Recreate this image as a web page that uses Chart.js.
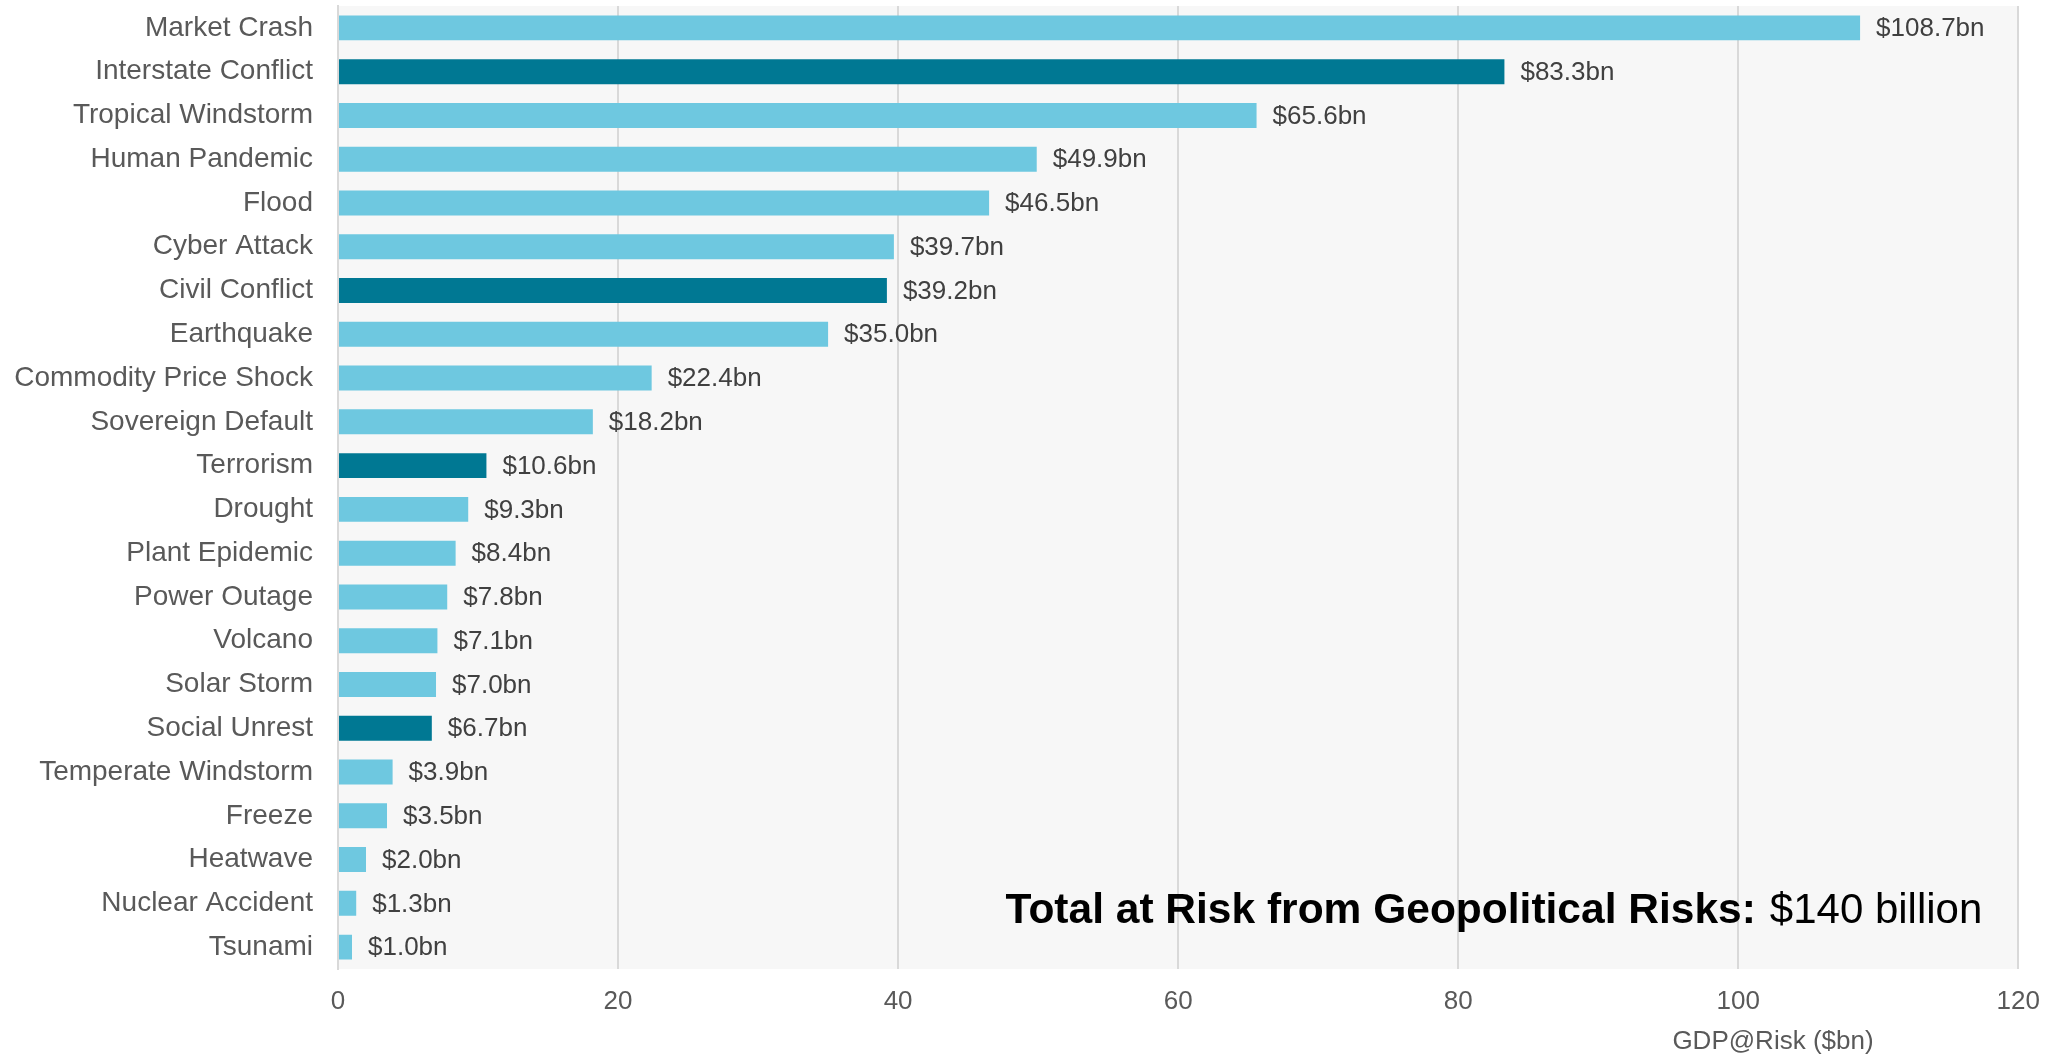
<!DOCTYPE html>
<html>
<head>
<meta charset="utf-8">
<script src="https://cdn.jsdelivr.net/npm/chart.js@4/dist/chart.umd.min.js"></script>
<style>
  html, body { margin: 0; padding: 0; background: #ffffff; }
  #wrap { width: 2057px; height: 1059px; position: relative; }
</style>
</head>
<body>
<div id="wrap"><canvas id="chart"></canvas></div>
<script>
// GDP@Risk by threat, $bn
const categories = [
  'Market Crash', 'Interstate Conflict', 'Tropical Windstorm', 'Human Pandemic',
  'Flood', 'Cyber Attack', 'Civil Conflict', 'Earthquake', 'Commodity Price Shock',
  'Sovereign Default', 'Terrorism', 'Drought', 'Plant Epidemic', 'Power Outage',
  'Volcano', 'Solar Storm', 'Social Unrest', 'Temperate Windstorm', 'Freeze',
  'Heatwave', 'Nuclear Accident', 'Tsunami'
];
const gdpAtRisk = [
  108.7, 83.3, 65.6, 49.9, 46.5, 39.7, 39.2, 35.0, 22.4, 18.2, 10.6,
  9.3, 8.4, 7.8, 7.1, 7.0, 6.7, 3.9, 3.5, 2.0, 1.3, 1.0
];
// geopolitical threats are highlighted in the darker shade
const geopolitical = ['Interstate Conflict', 'Civil Conflict', 'Terrorism', 'Social Unrest'];
const xTicks = [0, 20, 40, 60, 80, 100, 120];
const totalLabel = 'Total at Risk from Geopolitical Risks:';
const totalValue = '$140 billion';
const axisTitle = 'GDP@Risk ($bn)';

const FONT = "'Liberation Sans', Arial, Helvetica, sans-serif";
const LIGHT = '#6EC8E0';
const DARK = '#007893';

const barColors = categories.map(c => geopolitical.includes(c) ? DARK : LIGHT);

const plotBackground = {
  id: 'plotBackground',
  beforeDraw(chart) {
    const { ctx, chartArea: a } = chart;
    ctx.save();
    ctx.fillStyle = '#F7F7F7';
    ctx.fillRect(a.left, a.top, a.right - a.left, a.bottom - a.top);
    ctx.restore();
  }
};

const valueLabels = {
  id: 'valueLabels',
  afterDatasetsDraw(chart) {
    const { ctx } = chart;
    const meta = chart.getDatasetMeta(0);
    ctx.save();
    ctx.font = `26px ${FONT}`;
    ctx.fillStyle = '#404040';
    ctx.textAlign = 'left';
    ctx.textBaseline = 'middle';
    meta.data.forEach((bar, i) => {
      ctx.fillText('$' + gdpAtRisk[i].toFixed(1) + 'bn', bar.x + 16, bar.y + 1);
    });
    ctx.restore();
  }
};

const annotations = {
  id: 'annotations',
  afterDraw(chart) {
    const { ctx, chartArea: a } = chart;
    ctx.save();
    // total note, lower right of plot
    const right = a.right - 36;
    const base = a.bottom - 46;
    ctx.textBaseline = 'alphabetic';
    ctx.fillStyle = '#000000';
    ctx.font = `42px ${FONT}`;
    const wVal = ctx.measureText(totalValue).width;
    ctx.textAlign = 'right';
    ctx.fillText(totalValue, right, base);
    ctx.font = `bold 42.5px ${FONT}`;
    ctx.fillText(totalLabel, right - wVal - 14, base);
    // x axis title
    ctx.font = `26px ${FONT}`;
    ctx.fillStyle = '#595959';
    ctx.textAlign = 'center';
    ctx.textBaseline = 'middle';
    const cx = a.left + (a.right - a.left) * 0.854;
    ctx.fillText(axisTitle, cx, a.bottom + 73);
    ctx.restore();
  }
};

new Chart(document.getElementById('chart'), {
  type: 'bar',
  data: {
    labels: categories,
    datasets: [{
      data: gdpAtRisk,
      backgroundColor: barColors,
      borderWidth: 0,
      barPercentage: 0.57,
      categoryPercentage: 1.0
    }]
  },
  options: {
    indexAxis: 'y',
    responsive: true,
    maintainAspectRatio: false,
    animation: false,
    layout: { padding: { top: 6, right: 38, left: 0, bottom: 0 } },
    plugins: {
      legend: { display: false },
      tooltip: { enabled: false }
    },
    scales: {
      x: {
        min: 0,
        max: 120,
        afterBuildTicks(scale) { scale.ticks = xTicks.map(v => ({ value: v })); },
        afterFit(scale) { scale.height = 90; },
        grid: { color: '#D9D9D9', lineWidth: 2, drawTicks: false },
        border: { display: false },
        ticks: {
          padding: 17,
          color: '#595959',
          font: { family: FONT, size: 26 },
          maxRotation: 0
        }
      },
      y: {
        afterFit(scale) {
          scale.width = 338;
          scale.paddingTop = 0;
          scale.paddingBottom = 0;
        },
        grid: { display: false, drawTicks: false },
        border: { display: true, color: '#D9D9D9', width: 2 },
        ticks: {
          padding: 25,
          color: '#595959',
          font: { family: FONT, size: 28 },
          autoSkip: false
        }
      }
    }
  },
  plugins: [plotBackground, valueLabels, annotations]
});
</script>
</body>
</html>
